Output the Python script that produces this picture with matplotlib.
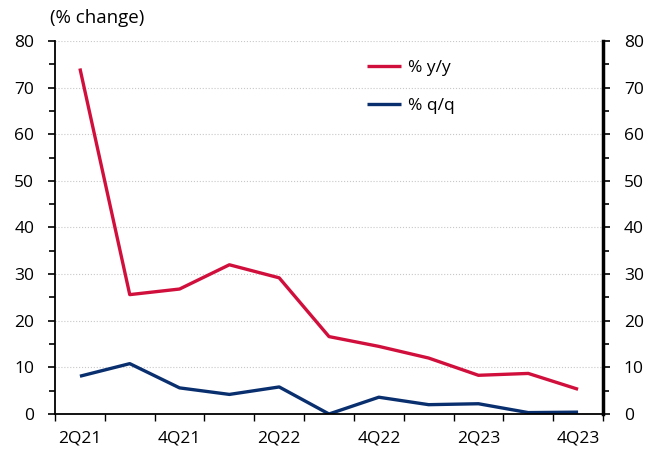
import numpy as np
import matplotlib.pyplot as plt
from matplotlib.ticker import MultipleLocator

plt.rcParams['font.family'] = ['Open Sans', 'DejaVu Sans']

# kvartali
kvartali = ['2Q21', '3Q21', '4Q21', '1Q22', '2Q22', '3Q22',
            '4Q22', '1Q23', '2Q23', '3Q23', '4Q23']
yy = [74.1, 25.6, 26.8, 32.0, 29.2, 16.6, 14.5, 12.0, 8.3, 8.7, 5.3]
qq = [8.1, 10.8, 5.6, 4.2, 5.8, 0.0, 3.6, 2.0, 2.2, 0.3, 0.4]

fs = 12.5

fig = plt.figure(figsize=(6.59, 4.5), dpi=100)
ax = fig.add_axes([0.0835, 0.08, 0.8315, 0.829])

x = np.arange(len(kvartali))
ax.plot(x, yy, color='#d10f3c', lw=2.4, label='% y/y', solid_capstyle='butt')
ax.plot(x, qq, color='#0a2f6f', lw=2.4, label='% q/q', solid_capstyle='butt')

ax.set_xlim(-0.5, len(kvartali) - 0.5)
ax.set_ylim(0, 80)

# x osi: oznake na sredini, crtice na granicama
ax.set_xticks(x[::2])
ax.set_xticklabels(kvartali[::2])
ax.set_xticks(np.arange(-0.5, len(kvartali), 1), minor=True)
ax.tick_params(axis='x', which='major', length=0, pad=12, labelsize=fs)
ax.tick_params(axis='x', which='minor', length=5, width=1, direction='out')

ax.yaxis.set_major_locator(MultipleLocator(10))
ax.yaxis.set_minor_locator(MultipleLocator(5))
ax.tick_params(axis='y', which='major', length=5, width=1.2, labelsize=fs,
               left=True, right=True, labelleft=True, labelright=True, pad=10)
ax.tick_params(axis='y', which='minor', length=4, width=1.2, left=True, right=True)

ax.grid(axis='y', which='major', color='#c8c8c8', ls=':', lw=0.8)
ax.set_axisbelow(True)

ax.spines['top'].set_visible(False)
ax.spines['left'].set_linewidth(1.3)
ax.spines['right'].set_linewidth(2.5)
ax.spines['bottom'].set_linewidth(1.3)

fig.text(50 / 659, 1 - 18 / 450, '(% change)', fontsize=13.5, ha='left', va='center')

leg = ax.legend(loc='upper left', bbox_to_anchor=(0.54, 0.99), frameon=False,
                fontsize=fs, handlelength=2.0, labelspacing=1.25, handletextpad=0.4)

plt.savefig('out.png', dpi=100)
